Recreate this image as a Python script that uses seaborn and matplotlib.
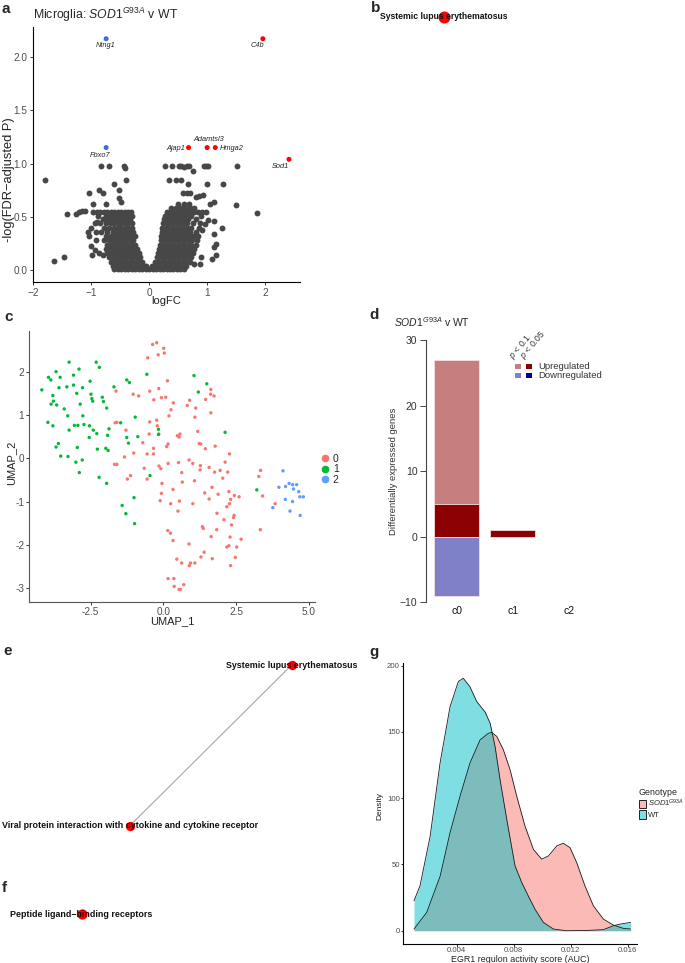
import matplotlib
matplotlib.use("Agg")
import matplotlib.pyplot as plt
import seaborn as sns
import numpy as np
import pandas as pd
from matplotlib.patches import Patch, Rectangle
from matplotlib.lines import Line2D

sns.set_style("ticks")
plt.rcParams['font.family'] = ['Liberation Sans', 'DejaVu Sans']
plt.rcParams['mathtext.fontset'] = 'custom'
plt.rcParams['mathtext.rm'] = 'Liberation Sans'
plt.rcParams['mathtext.it'] = 'Liberation Sans:italic'
plt.rcParams['mathtext.bf'] = 'Liberation Sans:bold'

W, H = 685, 963
fig = plt.figure(figsize=(W / 100, H / 100), dpi=100)


def add_ax(l, t, r, b):
    return fig.add_axes([l / W, 1 - b / H, (r - l) / W, (b - t) / H])


def ftext(x, y, s, **kw):
    return fig.text(x / W, 1 - y / H, s, **kw)

# ---------------------------------------------------------------- data (a)
vol_rows_y = [0.01, 0.04, 0.08, 0.12, 0.16, 0.20, 0.24, 0.28, 0.32, 0.36, 0.40,
              0.44, 0.48, 0.51, 0.545, 0.58, 0.62]
vol_rows_x = [
    [-0.60, -0.54, -0.48, -0.42, -0.36, -0.30, -0.24, -0.18, -0.12, -0.06, 0.00, 0.06, 0.12, 0.18, 0.24, 0.30, 0.36, 0.42, 0.48, 0.54, 0.60],
    [-0.63, -0.57, -0.51, -0.45, -0.39, -0.33, -0.27, -0.21, -0.15, -0.09, -0.05, 0.05, 0.09, 0.15, 0.21, 0.27, 0.33, 0.39, 0.45, 0.51, 0.57, 0.63],
    [-0.66, -0.60, -0.54, -0.48, -0.42, -0.36, -0.30, -0.24, -0.18, -0.12, 0.10, 0.16, 0.22, 0.28, 0.34, 0.40, 0.46, 0.52, 0.58, 0.64, 0.70],
    [-0.69, -0.63, -0.57, -0.51, -0.45, -0.39, -0.33, -0.27, -0.21, -0.15, 0.13, 0.19, 0.25, 0.31, 0.37, 0.43, 0.49, 0.55, 0.61, 0.67, 0.73],
    [-0.72, -0.66, -0.60, -0.54, -0.48, -0.42, -0.36, -0.30, -0.24, -0.18, 0.15, 0.21, 0.27, 0.33, 0.39, 0.45, 0.51, 0.57, 0.63, 0.69, 0.75],
    [-0.75, -0.69, -0.63, -0.57, -0.51, -0.45, -0.39, -0.33, -0.27, -0.21, 0.17, 0.23, 0.29, 0.35, 0.41, 0.47, 0.53, 0.59, 0.65, 0.71, 0.77],
    [-0.72, -0.66, -0.60, -0.54, -0.48, -0.42, -0.36, -0.30, -0.24, 0.19, 0.25, 0.31, 0.37, 0.43, 0.49, 0.55, 0.61, 0.67, 0.73, 0.80],
    [-0.78, -0.69, -0.63, -0.57, -0.51, -0.45, -0.39, -0.33, -0.27, 0.20, 0.26, 0.32, 0.38, 0.44, 0.50, 0.56, 0.62, 0.68, 0.74, 0.82],
    [-0.75, -0.66, -0.60, -0.54, -0.48, -0.42, -0.36, -0.30, -0.25, 0.21, 0.27, 0.33, 0.39, 0.45, 0.51, 0.57, 0.63, 0.69, 0.76, 0.85],
    [-0.82, -0.72, -0.63, -0.57, -0.51, -0.45, -0.39, -0.33, -0.27, 0.22, 0.28, 0.34, 0.40, 0.46, 0.52, 0.58, 0.64, 0.70, 0.80],
    [-0.78, -0.69, -0.60, -0.54, -0.48, -0.42, -0.36, -0.30, 0.23, 0.29, 0.35, 0.41, 0.47, 0.53, 0.59, 0.65, 0.72, 0.86],
    [-0.85, -0.75, -0.66, -0.60, -0.54, -0.48, -0.42, -0.36, -0.30, 0.24, 0.30, 0.36, 0.42, 0.48, 0.54, 0.60, 0.66, 0.76, 0.88],
    [-0.80, -0.70, -0.63, -0.57, -0.51, -0.45, -0.39, -0.33, 0.25, 0.31, 0.37, 0.43, 0.49, 0.55, 0.61, 0.67, 0.80],
    [-0.88, -0.74, -0.66, -0.60, -0.54, -0.48, -0.42, -0.36, -0.30, 0.27, 0.33, 0.39, 0.45, 0.51, 0.57, 0.63, 0.72, 0.90],
    [-0.96, -0.90, -0.84, -0.78, -0.72, -0.66, -0.60, -0.54, -0.48, -0.42, -0.36, -0.31, 0.30, 0.36, 0.42, 0.48, 0.54, 0.60, 0.66, 0.72, 0.78, 0.84, 0.92],
    [0.38, 0.46, 0.55, 0.62, 0.70, 0.78],
    [0.50, 0.60, 0.68],
]
vol_out_x = [-1.79, -1.64, -1.47, -1.41, -1.26, -1.21, -1.15, -1.10, -1.03, -0.96, -0.86, -0.79, -0.75,
             -0.82, -0.69, -0.60, -0.52, -0.51, -0.49, -0.43, -0.41, -0.40,
             -1.06, -1.03, -1.00, -0.98, -0.92, -0.93, -0.86, -0.80, -0.89, -0.94, -1.00, -0.92,
             0.28, 0.40, 0.51, 0.55, 0.60, 0.66, 0.69, 0.76, 0.94, 0.98, 1.02, 1.52,
             0.34, 0.46, 0.55, 0.67, 0.99, 1.28, 0.59, 0.65, 0.71, 0.80, 0.86, 0.93,
             1.12, 1.05, 1.49, 1.86, 1.12, 1.25, 1.12, 1.15, 1.12, 1.15, 1.09, 0.90, 0.88, 0.78,
             1.02, 0.97, 0.91, 0.98]
vol_out_y = [0.85, 0.09, 0.12, 0.53, 0.53, 0.55, 0.56, 0.56, 0.72, 0.62, 0.75, 0.72, 0.62,
             0.98, 0.98, 0.81, 0.75, 0.68, 0.64, 0.98, 0.96, 0.85,
             0.36, 0.32, 0.23, 0.14, 0.28, 0.19, 0.16, 0.14, 0.45, 0.44, 0.40, 0.36,
             0.98, 0.98, 0.98, 0.98, 0.97, 0.98, 0.98, 0.93, 0.98, 0.98, 0.98, 0.98,
             0.85, 0.85, 0.85, 0.81, 0.81, 0.81, 0.72, 0.72, 0.72, 0.69, 0.70, 0.71,
             0.64, 0.62, 0.61, 0.54, 0.46, 0.40, 0.34, 0.25, 0.22, 0.14, 0.11, 0.12, 0.06, 0.06,
             0.47, 0.43, 0.38, 0.55]

genes = ['Ntng1', 'Fbxo7', 'C4b', 'Ajap1', 'Adamtsl3', 'Hmga2', 'Sod1']
gene_logfc = [-0.74, -0.74, 1.96, 0.68, 1.00, 1.14, 2.41]
gene_logp = [2.17, 1.15, 2.17, 1.15, 1.15, 1.15, 1.04]
gene_dir = ['down', 'down', 'up', 'up', 'up', 'up', 'up']

# ---------------------------------------------------------------- data (c)
umap1_x = [-4.18, -3.95, -3.87, -3.69, -3.55, -3.24, -3.09, -2.90, -2.52, -2.31, -2.20, -1.70, -1.26, -1.17,
           -3.80, -3.78, -3.86, -3.67, -3.59, -3.32, -3.09, -2.98, -2.78, -2.49, -2.46, -2.43, -2.10, -2.06,
           -1.95, -0.57, 1.05, 1.49, 1.20, -3.97, -3.80, -3.41, -3.29, -3.24, -3.06, -2.94, -2.86, -2.77,
           -2.73, -2.54, -2.55, -2.41, -2.29, -1.87, -1.92, -1.47, -1.26, -0.97, -0.88, -1.20, -0.17, -0.17,
           -3.69, -3.61, -3.53, -3.28, -2.96, -3.01, -2.79, -2.89, -2.27, -2.21, -1.98, -1.90, -1.95, -0.46,
           -1.01, -1.42, -1.29, -0.99, 2.12, 3.21]
umap1_y = [1.58, 1.87, 1.81, 2.00, 1.87, 2.22, 1.92, 2.06, 1.78, 2.22, 2.10, 1.65, 1.81, 1.75,
           1.45, 1.32, 1.25, 1.23, 1.63, 1.65, 1.69, 1.50, 1.63, 1.48, 1.38, 1.32, 1.41, 1.31,
           1.16, 1.94, 1.91, 1.72, 1.53, 0.83, 0.75, 1.14, 0.98, 0.65, 0.76, 0.76, 1.25, 0.98,
           0.78, 0.75, 0.48, 0.65, 0.57, 0.68, 0.53, 0.82, 0.48, 0.95, 0.50, 0.35, 0.67, 0.55,
           0.26, 0.34, 0.05, 0.04, 0.25, -0.09, -0.04, -0.33, 0.21, -0.44, 0.23, 0.18, -0.58, -0.40,
           -0.91, -1.09, -1.28, -1.51, 0.60, -0.73]
umap0_x = [-0.37, -0.23, -0.18, 0.01, 0.03, -0.54, 0.14, -1.63, -1.04, -0.85, -0.47, -0.33, -0.16, -0.07,
           0.08, 0.34, 0.26, 0.82, 0.90, 1.11, 1.63, 1.62, 1.74, 1.45, 1.63, 1.08, 1.18, 1.23, 1.28, 1.44,
           1.78, -1.66, -1.60, -1.29, -1.60, -1.68, -1.34, -1.13, -1.24, -1.02, -0.71, -0.47, -0.23, -0.49,
           -0.16, -0.21, 0.19, 0.48, 0.57, 0.54, -0.34, -0.34, -0.56, 0.11, 0.16, -0.66, -0.56, -0.15,
           -0.09, 0.16, -0.05, -0.07, -0.11, 0.52, 0.63, 0.65, 0.33, 0.25, 0.55, 0.50, 0.88, 1.01, 1.07,
           1.27, 1.26, 1.01, 1.42, 1.67, 1.57, 1.76, 2.04, 2.12, 2.21, 2.27, 2.25, 2.31, 2.27, 2.44, 2.60,
           1.95, 1.88, 2.08, 1.84, 2.18, 2.43, 2.41, 2.34, 1.57, 0.15, 0.24, 0.33, 0.88, 0.46, 0.16, 0.36,
           0.37, 0.54, 0.58, 0.70, 0.89, 0.93, 0.63, 1.08, 1.29, 1.40, 1.68, 1.34, 1.37, 1.64, 1.83, 2.18,
           2.25, 2.29, 2.52, 2.67, 2.47, 2.31, 3.28, 3.34, 3.41, 3.84, 3.33]
umap0_y = [2.63, 2.67, 2.39, 2.54, 2.43, 2.32, 1.79, 1.55, 1.48, 1.44, 1.55, 1.35, 1.61, 1.40,
           1.41, 1.28, 1.12, 1.22, 1.34, 1.16, 1.59, 1.48, 1.44, 1.36, 1.05, 0.95, 0.62, 0.34, 0.33, 0.22,
           0.28, 0.82, 0.83, 0.65, -0.14, -0.14, 0.03, -0.40, -0.48, 0.12, 0.36, 0.84, 0.88, 0.56,
           0.56, 0.75, 0.98, 0.52, 0.56, 0.49, 0.23, 0.10, 0.10, 0.27, 0.33, -0.23, -0.48, -0.18,
           -0.24, -0.12, -0.58, -0.81, -0.98, -0.10, -0.33, -0.55, -0.72, -1.05, -0.99, -1.22, -0.04, -0.12, -0.52,
           -0.17, -0.27, -1.05, -0.80, -0.67, -0.21, -0.32, -0.46, -0.09, -0.32, 0.10, -0.77, -0.95, -1.05, -0.86, -0.89,
           -0.28, -0.83, -1.42, -1.27, -1.12, -1.32, -1.37, -1.54, -0.94, -1.67, -1.73, -1.90, -1.98, -2.33, -2.78, -2.78,
           -2.96, -3.03, -3.03, -2.92, -2.48, -2.42, -2.42, -2.42, -2.28, -2.17, -2.32, -1.58, -1.62, -1.81, -1.65, -2.05,
           -2.02, -1.82, -2.05, -1.87, -2.29, -2.48, -0.42, -0.28, -0.87, -1.05, -1.65]
umap2_x = [4.11, 3.97, 4.20, 4.32, 4.44, 4.58, 4.47, 4.65, 4.69, 4.81, 4.19, 4.44, 3.76, 4.35, 4.70]
umap2_y = [-0.29, -0.67, -0.65, -0.58, -0.61, -0.61, -0.71, -0.77, -0.89, -0.89, -0.95, -1.00, -1.14, -1.22, -1.32]

# ---------------------------------------------------------------- data (d)
clusters = ['c0', 'c1', 'c2']
up_p01 = [27, 1, 0]
up_p005 = [5, 1, 0]
down_p01 = [9, 0, 0]
down_p005 = [0, 0, 0]

# ---------------------------------------------------------------- data (b, e, f) network layouts
b_nodes = ['Systemic lupus erythematosus']
b_x = [0.30]
b_y = [0.96]
e_nodes = ['Systemic lupus erythematosus', 'Viral protein interaction with cytokine and cytokine receptor']
e_x = [0.729, 0.325]
e_y = [0.891, 0.193]
e_edges = [(0, 1)]
f_nodes = ['Peptide ligand\u2212binding receptors']
f_x = [0.204]
f_y = [0.51]

# ---------------------------------------------------------------- data (g)
wt_x = [0.0010, 0.00142, 0.00213, 0.00283, 0.00353, 0.00411, 0.00446, 0.00493, 0.0054, 0.00599, 0.00634,
        0.00669, 0.00704, 0.00751, 0.00809, 0.00856, 0.00902, 0.00949, 0.01008, 0.01078, 0.0117, 0.0131,
        0.01429, 0.01499, 0.01546, 0.0162]
wt_d = [22.6, 33.8, 71, 126.6, 169, 188, 190.5, 184, 173, 165, 156.7,
        139, 114, 84, 49, 36.4, 26.3, 16.3, 6.3, 1.3, 0, 0.2,
        0.8, 3.8, 5.0, 6.3]
sod_x = [0.0010, 0.00189, 0.00283, 0.00353, 0.00423, 0.00493, 0.00564, 0.00622, 0.00646, 0.00681, 0.00727,
         0.00774, 0.00821, 0.00879, 0.00938, 0.00996, 0.01043, 0.01102, 0.01148, 0.01195, 0.01242, 0.0130,
         0.01359, 0.01429, 0.01499, 0.01569, 0.0162]
sod_d = [1.3, 13.8, 41, 74, 101.5, 126.6, 144, 149, 149.6, 146.6, 136.6,
         121.6, 101.5, 79, 61.4, 54, 56.4, 64, 66, 62.7, 51.4, 33.8,
         18.8, 8.8, 4.3, 1.8, 1.3]

GRAY_TXT = '#4D4D4D'
SPINE_LW = 0.8


def classic(ax, fs=7.2, length=2.5, pad=1.5):
    sns.despine(ax=ax)
    for s in ['left', 'bottom']:
        ax.spines[s].set_linewidth(SPINE_LW)
        ax.spines[s].set_color('black')
    ax.tick_params(axis='both', length=length, width=0.7, color='#333333',
                   labelsize=fs, labelcolor=GRAY_TXT, pad=pad)

# ================================================================ panel a
ax = add_ax(33, 27, 300, 282)
vx = [x for xs in vol_rows_x for x in xs] + vol_out_x
vy = [y for y, xs in zip(vol_rows_y, vol_rows_x) for _ in xs] + vol_out_y
df_vol = pd.DataFrame({'logFC': vx, 'logp': vy})
sns.scatterplot(data=df_vol, x='logFC', y='logp', color='#474747', s=18, linewidth=0, ax=ax, zorder=2)
df_gene = pd.DataFrame({'logFC': gene_logfc, 'logp': gene_logp, 'dir': gene_dir, 'gene': genes})
sns.scatterplot(data=df_gene, x='logFC', y='logp', hue='dir', palette={'down': '#4169E1', 'up': '#FF0000'},
                s=13, linewidth=0, ax=ax, legend=False, zorder=3)
offsets = {'Ntng1': (0, -4.6, 'center'), 'Fbxo7': (-4.5, -5.4, 'center'), 'C4b': (-4.2, -4.6, 'center'),
           'Ajap1': (-2.5, -0.8, 'right'), 'Adamtsl3': (1.3, 6.0, 'center'), 'Hmga2': (3.0, -0.8, 'left'),
           'Sod1': (-6.0, -5.4, 'center')}
for g, x, y in zip(genes, gene_logfc, gene_logp):
    dx, dy, ha = offsets[g]
    ax.annotate(g, (x, y), xytext=(dx, dy), textcoords='offset points', ha=ha, va='center',
                fontsize=5.3, style='italic', color='#222222')
ax.set_xlim(-2, 2.6)
ax.set_ylim(-0.11, 2.28)
ax.set_xticks([-2, -1, 0, 1, 2])
ax.set_yticks([0, 0.5, 1.0, 1.5, 2.0])
ax.set_yticklabels(['0.0', '0.5', '1.0', '1.5', '2.0'])
ax.set_xlabel('')
ax.set_ylabel('')
classic(ax, 7.2)
ftext(166, 301, 'logFC', ha='center', va='center', fontsize=8, color='#222222')
ftext(9, 180, '-log(FDR\u2212adjusted P)', ha='center', va='center', rotation=90, fontsize=9.3, color='#222222')
ftext(33, 15, r'Microglia: $\mathit{SOD1}^{\mathit{G93A}}$ v WT', ha='left', va='center', fontsize=8.8)

# ================================================================ panel b
axb = add_ax(340, 5, 685, 300)
axb.set_axis_off()
axb.set_xlim(0, 1)
axb.set_ylim(0, 1)
sns.scatterplot(x=b_x, y=b_y, color='#FF0000', s=75, linewidth=0, ax=axb, zorder=2)
for n, x, y in zip(b_nodes, b_x, b_y):
    axb.text(x, y, n, ha='center', va='center', fontsize=6.2, fontweight='bold', color='#111111', zorder=3)

# ================================================================ panel c
axc = add_ax(29, 331, 315, 602)
df_u = pd.DataFrame({
    'UMAP_1': umap0_x + umap1_x + umap2_x,
    'UMAP_2': umap0_y + umap1_y + umap2_y,
    'cluster': ['0'] * len(umap0_x) + ['1'] * len(umap1_x) + ['2'] * len(umap2_x)})
pal_c = {'0': '#F8766D', '1': '#00BA38', '2': '#619CFF'}
sns.scatterplot(data=df_u, x='UMAP_1', y='UMAP_2', hue='cluster', palette=pal_c, s=6, linewidth=0,
                ax=axc, legend=False)
axc.set_xlim(-4.62, 5.21)
axc.set_ylim(-3.32, 2.94)
axc.set_xticks([-2.5, 0, 2.5, 5.0])
axc.set_xticklabels(['-2.5', '0.0', '2.5', '5.0'])
axc.set_yticks([-3, -2, -1, 0, 1, 2])
axc.set_yticklabels(['-3', '-2', '-1', '0', '1', '2'])
axc.set_xlabel('')
axc.set_ylabel('')
classic(axc, 7.2, pad=1.0)
for s in ['left', 'bottom']:
    axc.spines[s].set_color('#555555')
handles = [Line2D([], [], marker='o', ls='', color=pal_c[k], markersize=4.5) for k in ['0', '1', '2']]
axc.legend(handles, ['0', '1', '2'], loc='center left', bbox_to_anchor=(1.0, 0.49), frameon=False,
           fontsize=7.5, handletextpad=0.1, labelspacing=0.05, borderaxespad=0, handlelength=1.2)
ftext(172, 621, 'UMAP_1', ha='center', va='center', fontsize=8, color='#222222')
ftext(11, 463, 'UMAP_2', ha='center', va='center', rotation=90, fontsize=8, color='#222222')

# ================================================================ panel d
axd = add_ax(425.7, 340, 600, 602.3)
light_up, dark_up, light_dn, dark_dn = '#C67E7E', '#8B0000', '#8080C8', '#00008B'
bar_kw = dict(order=clusters, saturation=1, width=0.8, edgecolor='#F2E0E0', linewidth=0.6, ax=axd)
sns.barplot(x=clusters, y=up_p01, color=light_up, **bar_kw)
sns.barplot(x=clusters, y=up_p005, color=dark_up, **bar_kw)
sns.barplot(x=clusters, y=[-v for v in down_p01], color=light_dn, **bar_kw)
sns.barplot(x=clusters, y=[-v for v in down_p005], color=dark_dn, **bar_kw)
for p in axd.patches:
    if p.get_height() == 0:
        p.set_visible(False)
axd.set_xlim(-0.55, 2.55)
axd.set_ylim(-10, 30)
axd.set_yticks([-10, 0, 10, 20, 30])
axd.set_yticklabels(['\u221210', '0', '10', '20', '30'])
for s in ['top', 'right', 'bottom']:
    axd.spines[s].set_visible(False)
axd.spines['left'].set_linewidth(0.8)
axd.spines['left'].set_color('#444444')
axd.tick_params(axis='y', length=4, width=0.7, color='#444444', labelsize=7.5, labelcolor='#333333', pad=2)
axd.tick_params(axis='x', length=0, labelsize=7.5, labelcolor='#111111', pad=2.5)
axd.set_xlabel('')
axd.set_ylabel('')
ftext(393, 471, 'Differentially expressed genes', rotation=90, ha='center', va='center', fontsize=6.8,
      color='#333333')
ftext(394, 322, r'$\mathit{SOD1}^{\mathit{G93A}}$ v WT', ha='left', va='center', fontsize=7.5)
for (cx, cy, col) in [(518, 366.7, light_up), (529, 366.7, dark_up), (518, 375.7, light_dn), (529, 375.7, dark_dn)]:
    fig.add_artist(Rectangle(((cx - 2.7) / W, 1 - (cy + 2.2) / H), 5.4 / W, 4.4 / H,
                             transform=fig.transFigure, facecolor=col, edgecolor='none'))
ftext(538, 366.7, 'Upregulated', ha='left', va='center', fontsize=6.8, color='#333333')
ftext(538, 375.7, 'Downregulated', ha='left', va='center', fontsize=6.8, color='#333333')
ftext(516, 362, r'$\mathit{p}$ < 0.1', rotation=50, ha='left', va='bottom', rotation_mode='anchor',
      fontsize=6.3, color='#333333')
ftext(527, 362, r'$\mathit{p}$ < 0.05', rotation=50, ha='left', va='bottom', rotation_mode='anchor',
      fontsize=6.3, color='#333333')

# ================================================================ panel e
axe = add_ax(0, 640, 400, 870)
axe.set_axis_off()
axe.set_xlim(0, 1)
axe.set_ylim(0, 1)
for i, j in e_edges:
    axe.plot([e_x[i], e_x[j]], [e_y[i], e_y[j]], color='#A6A6A6', lw=0.8, zorder=1)
sns.scatterplot(x=e_x, y=e_y, color='#FF0000', s=45, linewidth=0, ax=axe, zorder=2)
for n, x, y in zip(e_nodes, e_x, e_y):
    axe.text(x, y, n, ha='center', va='center', fontsize=6.4, fontweight='bold', color='#111111', zorder=3)

# ================================================================ panel f
axf = add_ax(0, 870, 400, 960)
axf.set_axis_off()
axf.set_xlim(0, 1)
axf.set_ylim(0, 1)
sns.scatterplot(x=f_x, y=f_y, color='#FF0000', s=55, linewidth=0, ax=axf, zorder=2)
for n, x, y in zip(f_nodes, f_x, f_y):
    axf.text(x, y, n, ha='center', va='center', fontsize=6.4, fontweight='bold', color='#111111', zorder=3)

# ================================================================ panel g
axg = add_ax(403.3, 663, 636.7, 944)
sod_col = (248 / 255, 118 / 255, 109 / 255)
wt_col = (0, 191 / 255, 196 / 255)
axg.fill_between(sod_x, 0, sod_d, color=sod_col, alpha=0.5, linewidth=0)
sns.lineplot(x=sod_x, y=sod_d, color='#1a1a1a', lw=0.6, ax=axg, estimator=None, sort=False)
axg.fill_between(wt_x, 0, wt_d, color=wt_col, alpha=0.5, linewidth=0)
sns.lineplot(x=wt_x, y=wt_d, color='#1a1a1a', lw=0.6, ax=axg, estimator=None, sort=False)
axg.set_xlim(0.00025, 0.01663)
axg.set_ylim(-10, 202)
axg.set_xticks([0.004, 0.008, 0.012, 0.016])
axg.set_xticklabels(['0.004', '0.008', '0.012', '0.016'])
axg.set_yticks([0, 50, 100, 150, 200])
axg.set_xlabel('')
axg.set_ylabel('')
classic(axg, 5.6, length=1.8, pad=0.6)
axg.legend([Patch(facecolor=(*sod_col, 0.5), edgecolor='#222222', lw=0.7),
            Patch(facecolor=(*wt_col, 0.5), edgecolor='#222222', lw=0.7)],
           [r'$\mathit{SOD1}^{\mathit{G93A}}$', 'WT'], title='Genotype', loc='center left',
           bbox_to_anchor=(0.995, 0.5), frameon=False, fontsize=5.5, title_fontsize=6.4,
           handlelength=1.0, handleheight=1.3, handletextpad=0.25, labelspacing=0.15,
           borderaxespad=0, alignment='left')
ftext(520, 959.5, 'EGR1 regulon activity score (AUC)', ha='center', va='center', fontsize=6.4, color='#222222')
ftext(380, 806, 'Density', rotation=90, ha='center', va='center', fontsize=6.0, color='#222222')

# ================================================================ panel letters
for lab, x, y in [('a', 2, 9), ('b', 371, 8), ('c', 4, 317), ('d', 369, 315), ('e', 3, 651),
                  ('f', 2, 888), ('g', 369, 652)]:
    ftext(x, y, lab, ha='left', va='center', fontsize=11, fontweight='bold')

fig.savefig('out.png', dpi=100)
